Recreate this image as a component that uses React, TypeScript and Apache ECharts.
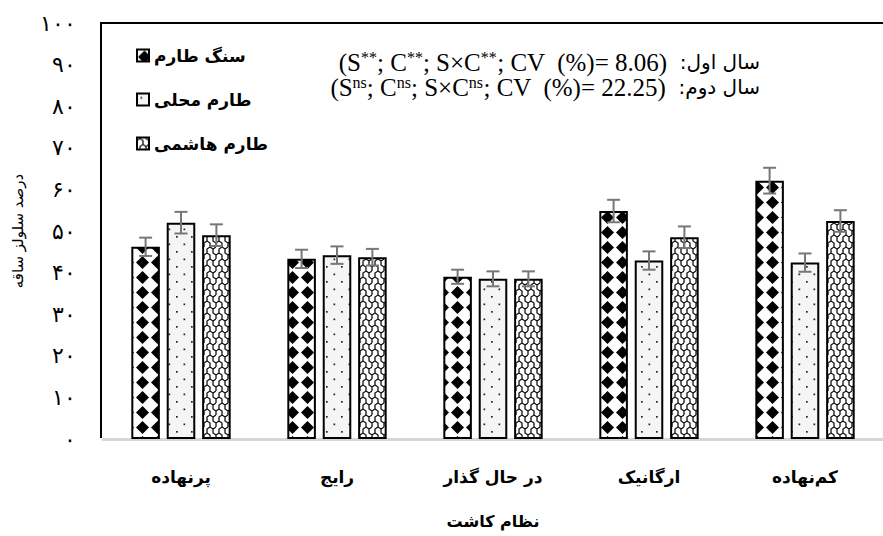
import React, { useEffect, useRef } from "react";
import * as echarts from "echarts";

// ---- data ----
const CATEGORIES = ["پرنهاده", "رایج", "در حال گذار", "ارگانیک", "کم‌نهاده"];
const SERIES_NAMES = ["سنگ طارم", "طارم محلی", "طارم هاشمی"];
const VALUES_S1 = [46.2, 43.3, 39.0, 54.8, 62.1];
const VALUES_S2 = [52.0, 44.2, 38.5, 42.9, 42.4];
const VALUES_S3 = [49.0, 43.7, 38.5, 48.5, 52.4];
const ERR_S1 = [2.2, 2.2, 1.7, 2.7, 3.1];
const ERR_S2 = [2.6, 2.1, 1.8, 2.2, 2.2];
const ERR_S3 = [2.6, 2.0, 1.8, 2.6, 2.6];
const Y_MIN = 0;
const Y_MAX = 100;
const Y_INTERVAL = 10;
const Y_NAME = "درصد سلولز ساقه";
const X_NAME = "نظام کاشت";
const YEAR1_LABEL = "سال اول";
const YEAR2_LABEL = "سال دوم";
const YEAR1_SIG = ["**", "**", "**"];
const YEAR2_SIG = ["ns", "ns", "ns"];
const YEAR1_CV = "8.06";
const YEAR2_CV = "22.25";

const BAR_W = 0.183;
const BAR_GAP = 0.24;

const toPersian = (n: number) =>
  String(n).replace(/[0-9]/g, (d) => "۰۱۲۳۴۵۶۷۸۹"[Number(d)]);

const svgUrl = (w: number, h: number, body: string) =>
  "data:image/svg+xml;charset=utf-8," +
  encodeURIComponent(
    `<svg xmlns="http://www.w3.org/2000/svg" width="${w}" height="${h}" viewBox="0 0 ${w} ${h}">${body}</svg>`
  );

const PATTERN_DIAMOND = {
  image: svgUrl(
    15,
    15,
    `<rect width="15" height="15" fill="#fff"/><polygon points="7.5,1 14,7.5 7.5,14 1,7.5" fill="#000"/>`
  ),
  repeat: "repeat",
  imageWidth: 15,
  imageHeight: 15,
};
const PATTERN_DOTS = {
  image: svgUrl(
    15,
    15,
    `<rect width="15" height="15" fill="#f5f5f5"/><rect x="3.5" y="3.5" width="1.7" height="1.7" fill="#222"/><rect x="11" y="11" width="1.7" height="1.7" fill="#222"/>`
  ),
  repeat: "repeat",
  imageWidth: 15,
  imageHeight: 15,
};
const PATTERN_WAVE = {
  image: svgUrl(
    12,
    12,
    `<rect width="12" height="12" fill="#fff"/><path d="M0,3 L3,1 L6,3 L6,7 L9,9 L12,7 M0,7 L0,3 M12,7 L12,3 M6,7 L3,9 L3,12 M9,9 L9,12 M3,0 L3,1 M9,0 L9,1 L12,3" stroke="#111" stroke-width="1.3" fill="none"/>`
  ),
  repeat: "repeat",
  imageWidth: 12,
  imageHeight: 12,
};
const PATTERNS = [PATTERN_DIAMOND, PATTERN_DOTS, PATTERN_WAVE];
const VALUES = [VALUES_S1, VALUES_S2, VALUES_S3];
const ERRORS = [ERR_S1, ERR_S2, ERR_S3];

const sigRich = (label: string, sig: string[], cv: string) =>
  `{n|(S}{s|${sig[0]}}{n|; C}{s|${sig[1]}}{n|; S×C}{s|${sig[2]}}{n|; CV  (%)= ${cv})}{f|  :${label}}`;

const RICH = {
  n: { fontFamily: "Liberation Serif", fontSize: 25, lineHeight: 25, fill: "#000" },
  s: { fontFamily: "Liberation Serif", fontSize: 16, lineHeight: 16, verticalAlign: "top", fill: "#000" },
  f: { fontFamily: "DejaVu Sans", fontSize: 20, lineHeight: 25, fill: "#000" },
};

export default function App() {
  const ref = useRef<HTMLDivElement>(null);
  useEffect(() => {
    if (!ref.current) return;
    const chart = echarts.init(ref.current, undefined, { renderer: "svg" });
    const barSeries = SERIES_NAMES.map((name, i) => ({
      name,
      type: "bar",
      data: VALUES[i],
      barWidth: `${BAR_W * 100}%`,
      barGap: `${BAR_GAP * 100}%`,
      itemStyle: { color: PATTERNS[i], borderColor: "#000", borderWidth: 2 },
      z: 2,
    }));
    const errSeries = SERIES_NAMES.map((name, si) => ({
      name: "err" + si,
      type: "custom",
      z: 5,
      data: VALUES[si].map((v, ci) => [ci, v, ERRORS[si][ci]]),
      renderItem: (params: any, api: any) => {
        const ci = api.value(0);
        const v = api.value(1);
        const e = api.value(2);
        const c = api.coord([ci, v]);
        const band = api.size([1, 0])[0];
        const bw = band * BAR_W;
        const gap = bw * BAR_GAP;
        const x = c[0] + (si - 1) * (bw + gap);
        const top = api.coord([ci, v + e])[1];
        const bot = api.coord([ci, v - e])[1];
        const half = 6.5;
        const st = { stroke: "#777", lineWidth: 2 };
        return {
          type: "group",
          children: [
            { type: "line", shape: { x1: x, y1: top, x2: x, y2: bot }, style: st },
            { type: "line", shape: { x1: x - half, y1: top, x2: x + half, y2: top }, style: st },
            { type: "line", shape: { x1: x - half, y1: bot, x2: x + half, y2: bot }, style: st },
          ],
        };
      },
    }));
    chart.setOption({
      animation: false,
      backgroundColor: "#fff",
      grid: { left: 103, top: 23, width: 792, height: 416, containLabel: false },
      legend: {
        data: SERIES_NAMES,
        orient: "vertical",
        left: 131,
        top: 40,
        itemWidth: 12,
        itemHeight: 12,
        itemGap: 23,
        icon: "rect",
        textStyle: {
          fontFamily: "DejaVu Sans",
          fontWeight: "bold",
          fontSize: 17,
          lineHeight: 21,
          color: "#000",
        },
      },
      xAxis: {
        type: "category",
        data: CATEGORIES,
        name: X_NAME,
        nameLocation: "middle",
        nameGap: 74,
        nameTextStyle: { fontFamily: "DejaVu Sans", fontWeight: "bold", fontSize: 16, color: "#000" },
        axisLine: { show: true, lineStyle: { color: "#d6d6d6", width: 3 } },
        axisTick: { show: false },
        axisLabel: {
          margin: 29,
          fontFamily: "DejaVu Sans",
          fontWeight: "bold",
          fontSize: 17,
          color: "#000",
        },
      },
      yAxis: {
        type: "value",
        min: Y_MIN,
        max: Y_MAX,
        interval: Y_INTERVAL,
        name: Y_NAME,
        nameLocation: "middle",
        nameGap: 78,
        nameTextStyle: { fontFamily: "DejaVu Sans", fontSize: 15, color: "#000" },
        axisLine: { show: false },
        axisTick: { show: false },
        splitLine: { show: false },
        axisLabel: {
          margin: 27,
          fontFamily: "Liberation Serif",
          fontSize: 22,
          color: "#000",
          formatter: (v: number) => toPersian(v),
        },
      },
      graphic: [
        { type: "line", shape: { x1: 101, y1: 23, x2: 101, y2: 438 }, style: { stroke: "#000", lineWidth: 2 }, z: 10 },
        { type: "line", shape: { x1: 100, y1: 23, x2: 883, y2: 23 }, style: { stroke: "#000", lineWidth: 2 }, z: 10 },
        {
          type: "text",
          x: 760,
          y: 62,
          z: 10,
          style: { text: sigRich(YEAR1_LABEL, YEAR1_SIG, YEAR1_CV), rich: RICH, align: "right", verticalAlign: "middle" },
        },
        {
          type: "text",
          x: 760,
          y: 87,
          z: 10,
          style: { text: sigRich(YEAR2_LABEL, YEAR2_SIG, YEAR2_CV), rich: RICH, align: "right", verticalAlign: "middle" },
        },
      ],
      series: [...barSeries, ...errSeries],
    });
    return () => chart.dispose();
  }, []);
  return (
    <div
      ref={ref}
      style={{ position: "fixed", left: 0, top: 0, width: 883, height: 536, background: "#fff" }}
    />
  );
}
